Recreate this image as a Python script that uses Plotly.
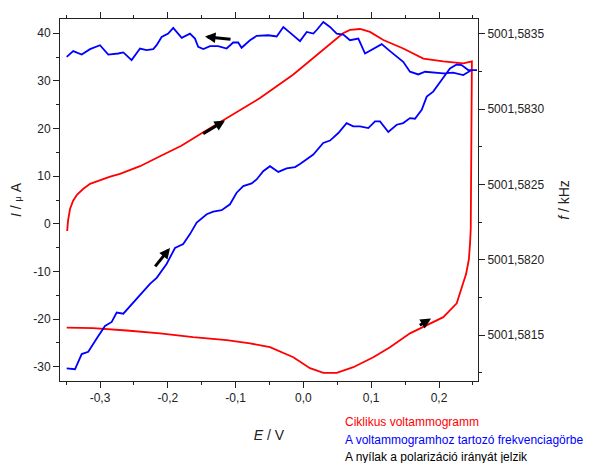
import plotly.graph_objects as go

# ---- Data ----
# Cyclic voltammogram (E / V, I / µA)
cv_E = [-0.3484, -0.3472, -0.3442, -0.3398, -0.3340, -0.3250, -0.3147, -0.3000, -0.2850, -0.2705,
        -0.2410, -0.2115, -0.1800, -0.1525, -0.1131, -0.0640, -0.0153, 0.0245, 0.0584, 0.0687,
        0.0835, 0.0982, 0.1179, 0.1473, 0.1768, 0.2063, 0.2358, 0.2485, 0.2478, 0.2474,
        0.2468, 0.2458, 0.2440, 0.2400, 0.2354, 0.2261, 0.2063, 0.1867, 0.1572, 0.1277,
        0.1031, 0.0736, 0.0491, 0.0294, 0.0097, -0.0149, -0.0493, -0.0788, -0.1131, -0.1628,
        -0.2115, -0.2606, -0.3103, -0.3491]
cv_I = [-1.5, 0.6, 3.1, 4.8, 6.1, 7.3, 8.4, 9.2, 9.9, 10.5,
        12.1, 14.2, 16.4, 18.8, 22.2, 26.4, 31.3, 36.1, 40.0, 40.7,
        40.9, 40.3, 38.6, 36.8, 34.7, 34.1, 33.7, 34.1, 20.0, 2.7,
        -1.0, -4.0, -7.5, -10.5, -12.5, -16.7, -19.6, -20.9, -23.0, -25.9,
        -28.0, -30.1, -31.3, -31.3, -30.3, -28.0, -25.9, -25.1, -24.4, -23.8,
        -23.0, -22.4, -21.9, -21.8]

# Frequency curve (E / V, f / kHz)
fr_E = [-0.3491, -0.3369, -0.3270, -0.3173, -0.3049, -0.2926, -0.2827, -0.2754, -0.2656, -0.2534,
        -0.2410, -0.2263, -0.2164, -0.2018, -0.1894, -0.1773, -0.1673, -0.1574, -0.1426, -0.1330,
        -0.1206, -0.1083, -0.0985, -0.0887, -0.0763, -0.0690, -0.0593, -0.0493, -0.0370, -0.0248,
        -0.0124, -0.0050, 0.0146, 0.0292, 0.0392, 0.0515, 0.0637, 0.0735, 0.0835, 0.0957,
        0.1056, 0.1130, 0.1252, 0.1376, 0.1472, 0.1572, 0.1646, 0.1745, 0.1819, 0.1914,
        0.2038, 0.2162, 0.2261, 0.2333, 0.2431, 0.2481, 0.2560,
        0.2481, 0.2357, 0.2207, 0.2062, 0.1914, 0.1794, 0.1695, 0.1572, 0.1472, 0.1376,
        0.1277, 0.1155, 0.0909, 0.0810, 0.0687, 0.0589, 0.0491, 0.0392, 0.0294, 0.0196,
        0.0146, 0.0049, -0.0050, -0.0198, -0.0296, -0.0394, -0.0518, -0.0689, -0.0788, -0.0912,
        -0.0962, -0.1035, -0.1133, -0.1257, -0.1378, -0.1476, -0.1552, -0.1599, -0.1673, -0.1795,
        -0.1920, -0.1994, -0.2091, -0.2165, -0.2215, -0.2313, -0.2410, -0.2534, -0.2656, -0.2732,
        -0.2878, -0.3000, -0.3147, -0.3270, -0.3395, -0.3491]
fr_f = [5001.581280, 5001.581274, 5001.581375, 5001.581390, 5001.581478, 5001.581561, 5001.581588, 5001.581650, 5001.581643, 5001.581705,
        5001.581771, 5001.581841, 5001.581881, 5001.581973, 5001.582079, 5001.582105, 5001.582171, 5001.582248, 5001.582303, 5001.582320,
        5001.582330, 5001.582369, 5001.582446, 5001.582490, 5001.582508, 5001.582534, 5001.582589, 5001.582622, 5001.582584, 5001.582607,
        5001.582616, 5001.582637, 5001.582699, 5001.582776, 5001.582792, 5001.582842, 5001.582908, 5001.582886, 5001.582886, 5001.582875,
        5001.582919, 5001.582919, 5001.582849, 5001.582897, 5001.582908, 5001.582941, 5001.582937, 5001.582996, 5001.583084, 5001.583117,
        5001.583194, 5001.583271, 5001.583297, 5001.583293, 5001.583260, 5001.583260, 5001.583260,
        5001.583260, 5001.583227, 5001.583243, 5001.583238, 5001.583243, 5001.583249, 5001.583231, 5001.583249, 5001.583315, 5001.583348,
        5001.583386, 5001.583432, 5001.583370, 5001.583469, 5001.583458, 5001.583495, 5001.583502, 5001.583546, 5001.583579, 5001.583526,
        5001.583502, 5001.583513, 5001.583452, 5001.583509, 5001.583546, 5001.583483, 5001.583491, 5001.583487, 5001.583458, 5001.583408,
        5001.583443, 5001.583443, 5001.583403, 5001.583419, 5001.583419, 5001.583399, 5001.583414, 5001.583469, 5001.583502, 5001.583474,
        5001.583540, 5001.583502, 5001.583480, 5001.583425, 5001.583399, 5001.583392, 5001.583403, 5001.583326, 5001.583377, 5001.583370,
        5001.583363, 5001.583425, 5001.583399, 5001.583363, 5001.583386, 5001.583348]

# Direction arrows (tail -> head), in E / I units
arrow_tail_E = [-0.1053, -0.1500, -0.2204, 0.1695]
arrow_tail_I = [38.7, 18.74, -9.26, -21.5]
arrow_head_E = [-0.1451, -0.1156, -0.1968, 0.1882]
arrow_head_I = [39.3, 21.67, -5.08, -19.9]

# Axis ticks
x_ticks = [-0.3, -0.2, -0.1, 0.0, 0.1, 0.2]
x_ticktext = ["-0,3", "-0,2", "-0,1", "0,0", "0,1", "0,2"]
x_minor = [-0.35, -0.25, -0.15, -0.05, 0.05, 0.15, 0.25]
y_ticks = [-30, -20, -10, 0, 10, 20, 30, 40]
y_ticktext = ["-30", "-20", "-10", "0", "10", "20", "30", "40"]
y_minor = [-25, -15, -5, 5, 15, 25, 35]
y2_ticks = [5001.5815, 5001.5820, 5001.5825, 5001.5830, 5001.5835]
y2_ticktext = ["5001,5815", "5001,5820", "5001,5825", "5001,5830", "5001,5835"]
y2_minor = [5001.58125, 5001.58175, 5001.58225, 5001.58275, 5001.58325]

legend_lines = ["Ciklikus voltammogramm",
                "A voltammogramhoz tartozó frekvenciagörbe",
                "A nyílak a polarizáció irányát jelzik"]
legend_colors = ["#ff0000", "#0000ff", "#000000"]

FONT = "Arial, Liberation Sans, sans-serif"

fig = go.Figure()
fig.add_trace(go.Scatter(x=cv_E, y=cv_I, mode="lines",
                         line=dict(color="#ff0000", width=1.8), yaxis="y", showlegend=False))
fig.add_trace(go.Scatter(x=fr_E, y=fr_f, mode="lines",
                         line=dict(color="#0000ff", width=1.8), yaxis="y2", showlegend=False))

annotations = []
for tx, ty, hx, hy in zip(arrow_tail_E, arrow_tail_I, arrow_head_E, arrow_head_I):
    annotations.append(dict(x=hx, y=hy, ax=tx, ay=ty, xref="x", yref="y", axref="x", ayref="y",
                            text="", showarrow=True, arrowhead=2, arrowsize=0.7,
                            arrowwidth=3, arrowcolor="black"))
legend_y = [-0.113, -0.163, -0.210]
for txt, col, ly in zip(legend_lines, legend_colors, legend_y):
    annotations.append(dict(x=0.677, y=ly, xref="paper", yref="paper", text=txt,
                            showarrow=False, xanchor="left", yanchor="middle",
                            font=dict(family=FONT, size=12, color=col)))

axis_common = dict(showgrid=False, zeroline=False, showline=True, linecolor="#222",
                   linewidth=1, ticks="outside", ticklen=6, tickwidth=1, tickcolor="#222",
                   tickfont=dict(family=FONT, size=12, color="#222"))

fig.update_layout(
    width=591, height=463,
    margin=dict(l=60, r=113, t=17, b=82),
    plot_bgcolor="white", paper_bgcolor="white",
    annotations=annotations,
    xaxis=dict(**axis_common, range=[-0.359, 0.2575], mirror="ticks",
               tickmode="array", tickvals=x_ticks, ticktext=x_ticktext,
               minor=dict(tickmode="array", tickvals=x_minor, ticklen=3, ticks="outside",
                          tickcolor="#222"),
               title=dict(text="<i>E</i> / V", font=dict(family=FONT, size=14, color="#222"),
                          standoff=25)),
    yaxis=dict(**axis_common, range=[-33, 43],
               tickmode="array", tickvals=y_ticks, ticktext=y_ticktext,
               minor=dict(tickmode="array", tickvals=y_minor, ticklen=3, ticks="outside",
                          tickcolor="#222"),
               title=dict(text="<i>I</i> / <span style='font-size:9px'>μ</span> A",
                          font=dict(family=FONT, size=14, color="#222"), standoff=8)),
    yaxis2=dict(**axis_common, overlaying="y", side="right",
                range=[5001.581196, 5001.583599],
                tickmode="array", tickvals=y2_ticks, ticktext=y2_ticktext,
                minor=dict(tickmode="array", tickvals=y2_minor, ticklen=3, ticks="outside",
                           tickcolor="#222"),
                title=dict(text="<i>f</i> / kHz", font=dict(family=FONT, size=14, color="#222"),
                           standoff=15)),
)

fig.write_html("out.html")
